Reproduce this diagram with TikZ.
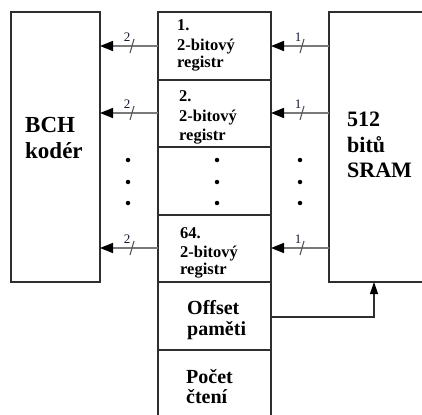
\documentclass[tikz,border=0pt]{standalone}
\usepackage{fontspec}
\setmainfont{Liberation Serif}
\usetikzlibrary{arrows.meta}
\definecolor{boxline}{HTML}{2E2E2E}
\definecolor{wireline}{HTML}{7A7A7A}
\definecolor{lbltext}{HTML}{101830}
\begin{document}
\begin{tikzpicture}[x=1pt,y=-1pt,
  boxst/.style={draw=boxline, line width=1.3pt, inner sep=0pt, outer sep=0pt},
  wire/.style={draw=wireline, line width=1.5pt, -{Triangle[length=13pt,width=10pt,color=black]}},
  ctrl/.style={draw=boxline, line width=1.2pt, -{Triangle[length=12pt,width=8pt,color=black]}},
  slashst/.style={draw=boxline!80, line width=1.1pt},
  lbl/.style={font=\fontsize{13}{13}\selectfont, text=lbltext, inner sep=0pt},
  regtxt/.style={font=\fontsize{16.5}{16.5}\selectfont\bfseries, anchor=base west, inner sep=0pt},
  bigtxt/.style={font=\fontsize{23}{23}\selectfont\bfseries, anchor=base west, inner sep=0pt},
  sramtxt/.style={font=\fontsize{22}{22}\selectfont\bfseries, anchor=base west, inner sep=0pt},
  midtxt/.style={font=\fontsize{20}{20}\selectfont\bfseries, anchor=base west, inner sep=0pt},
  dotst/.style={fill=black, circle, inner sep=0pt, minimum size=4.5pt}
]
\useasboundingbox (0,0) rectangle (422,414);
\clip (0,0) rectangle (422,414);

% BCH box
\node[boxst, anchor=north west, minimum width=89pt, minimum height=270pt] (bch) at (11,12) {};
% SRAM box (cut at right)
\node[boxst, anchor=north west, minimum width=120pt, minimum height=270pt] (sram) at (329,12) {};

% middle column cells
\node[boxst, anchor=north west, minimum width=113pt, minimum height=68pt] (r1) at (158,12) {};
\node[boxst, anchor=north west, minimum width=113pt, minimum height=67pt] (r2) at (158,80) {};
\node[boxst, anchor=north west, minimum width=113pt, minimum height=68pt] (rd) at (158,147) {};
\node[boxst, anchor=north west, minimum width=113pt, minimum height=67pt] (r64) at (158,215) {};
\node[boxst, anchor=north west, minimum width=113pt, minimum height=68pt] (off) at (158,282) {};
\coordinate (ctl) at (158,350);
\coordinate (ctr) at (271,350);
\coordinate (cbl) at (158,420);
\coordinate (cbr) at (271,420);
\draw[boxline, line width=1.3pt] (ctl) -- (cbl);
\draw[boxline, line width=1.3pt] (ctr) -- (cbr);

% texts
\node[bigtxt] (t1) at (25,133) {BCH};
\node[bigtxt] (t2) at (25,158) {kodér};
\node[sramtxt] (s1) at (347,127) {512};
\node[sramtxt] (s2) at (347,153) {bitů};
\node[sramtxt] (s3) at (347,177) {SRAM};

\node[regtxt] (a1) at (177,31) {1.};
\node[regtxt] (a2) at (177,51) {2-bitový};
\node[regtxt] (a3) at (177,68) {registr};
\node[regtxt] (b1) at (179,102) {2.};
\node[regtxt] (b2) at (179,122) {2-bitový};
\node[regtxt] (b3) at (179,140) {registr};
\node[regtxt] (c1) at (180,238) {64.};
\node[regtxt] (c2) at (180,257) {2-bitový};
\node[regtxt] (c3) at (180,274) {registr};

\node[midtxt] (o1) at (187,314) {Offset};
\node[midtxt] (o2) at (187,335) {paměti};
\node[midtxt] (p1) at (186,383) {Počet};
\node[midtxt] (p2) at (186,403) {čtení};

% dots
\foreach \xx/\nm in {128/l,217/m,300/r}{
  \node[dotst] (\nm d1) at (\xx,160) {};
  \node[dotst] (\nm d2) at (\xx,182) {};
  \node[dotst] (\nm d3) at (\xx,203) {};
}

% connectors (SRAM -> register -> BCH)
\foreach \nm/\yy in {r1/46,r2/113,r64/248}{
  \coordinate (\nm L) at (158,\yy);
  \coordinate (\nm B) at (100,\yy);
  \draw[wire] (\nm L) -- (\nm B);
  \draw[slashst] (130,\yy+7) -- (134,\yy-7);
  \node[lbl] (\nm n2) at (127,\yy-9) {2};
  \coordinate (\nm S) at (329,\yy);
  \coordinate (\nm R) at (271,\yy);
  \draw[wire] (\nm S) -- (\nm R);
  \draw[slashst] (300,\yy+7) -- (304,\yy-7);
  \node[lbl] (\nm n1) at (298,\yy-9) {1};
}

% offset -> SRAM
\coordinate (oo) at (271,317);
\coordinate (oc) at (374,317);
\coordinate (os) at (374,282);
\draw[ctrl] (oo) -- (oc) -- (os);
\end{tikzpicture}
\end{document}
